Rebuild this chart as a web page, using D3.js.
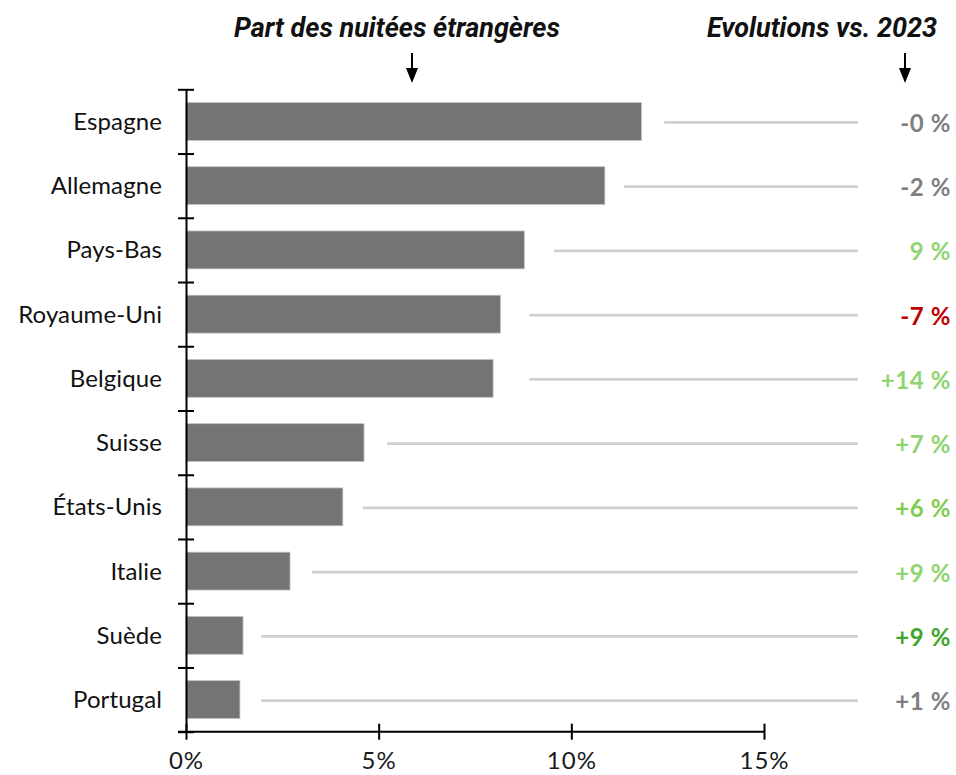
<!DOCTYPE html>
<html>
<head>
<meta charset="utf-8">
<script src="https://cdn.jsdelivr.net/npm/d3@7"></script>
<style>
  body { margin: 0; background: #fff; }
  svg { display: block; }
</style>
</head>
<body>
<div id="chart"></div>
<script>
// pays, part des nuitées étrangères (%), évolution vs 2023
const countries = ["Espagne", "Allemagne", "Pays-Bas", "Royaume-Uni", "Belgique",
                   "Suisse", "États-Unis", "Italie", "Suède", "Portugal"];
const shares = [11.82, 10.87, 8.78, 8.16, 7.97, 4.62, 4.07, 2.70, 1.48, 1.40];
const evolutionLabels = ["-0 %", "-2 %", "9 %", "-7 %", "+14 %", "+7 %", "+6 %", "+9 %", "+9 %", "+1 %"];
const evolutionColors = ["#7f7f7f", "#7f7f7f", "#8fd470", "#c00000", "#8fd470",
                         "#8fd470", "#7fcc4e", "#8fd470", "#3fa52a", "#7f7f7f"];
// leader lines (in % units) running from after the bar to the evolution label
const leaderStart = [12.41, 11.37, 9.55, 8.91, 8.91, 5.22, 4.59, 3.27, 1.95, 1.95];
const leaderEnd = 17.44;
const xTicks = [0, 5, 10, 15];

const W = 956, H = 775;
const svg = d3.select("#chart")
  .append("svg")
    .attr("width", W)
    .attr("height", H);

const x = d3.scaleLinear()
  .domain([0, 15])
  .range([186, 764]);

const y = d3.scaleBand()
  .domain(countries)
  .range([89.3, 731.7])
  .paddingInner(0.41)
  .paddingOuter(0.205);

// band boundaries for the crossing ticks on the category axis
const yEdge = d3.scaleLinear()
  .domain([0, countries.length])
  .range([89.3, 731.7]);

const rows = countries.map((c, i) => ({
  name: c, share: shares[i], evo: evolutionLabels[i], color: evolutionColors[i],
  l0: leaderStart[i]
}));

// leader lines
svg.append("g")
  .selectAll("line")
  .data(rows)
  .join("line")
    .attr("x1", d => x(d.l0))
    .attr("x2", x(leaderEnd))
    .attr("y1", d => y(d.name) + y.bandwidth() / 2 + 1)
    .attr("y2", d => y(d.name) + y.bandwidth() / 2 + 1)
    .attr("stroke", "#d0d0d0")
    .attr("stroke-width", 2.6);

// bars
svg.append("g")
  .selectAll("rect")
  .data(rows)
  .join("rect")
    .attr("x", x(0))
    .attr("y", d => y(d.name))
    .attr("width", d => x(d.share) - x(0))
    .attr("height", y.bandwidth())
    .attr("fill", "#747474")
    .attr("stroke", "#c4c4c4")
    .attr("stroke-width", 0.8);

// X axis
const xAxis = svg.append("g")
  .attr("transform", "translate(0," + yEdge(countries.length) + ")")
  .call(d3.axisBottom(x).tickValues(xTicks).tickFormat(d => d + "%").tickSizeOuter(0));
xAxis.select(".domain").attr("stroke", "#000").attr("stroke-width", 2)
  .attr("d", "M" + (x(0) - 8) + ",0H" + x(15));
xAxis.selectAll(".tick line").attr("y1", -8).attr("y2", 8).attr("stroke", "#000").attr("stroke-width", 2);
xAxis.selectAll(".tick text")
  .attr("y", 19)
  .attr("dy", "0.75em")
  .attr("fill", "#1a1a1a")
  .style("font-family", "Lato, sans-serif")
  .style("font-size", "24px")
  .style("letter-spacing", "1px");

// Y axis (category edges)
const yAxis = svg.append("g")
  .attr("transform", "translate(" + x(0) + ",0)")
  .call(d3.axisLeft(yEdge).tickValues(d3.range(0, countries.length + 1)).tickFormat("").tickSizeOuter(0));
yAxis.select(".domain").attr("stroke", "#000").attr("stroke-width", 2);
yAxis.selectAll(".tick line").attr("x1", -8).attr("x2", 8).attr("stroke", "#000").attr("stroke-width", 2);

// category labels
svg.append("g")
  .selectAll("text")
  .data(rows)
  .join("text")
    .attr("x", 162)
    .attr("y", d => y(d.name) + y.bandwidth() / 2)
    .attr("dy", "0.35em")
    .attr("text-anchor", "end")
    .attr("fill", "#111")
    .style("font-family", "Lato, sans-serif")
    .style("font-size", "24px")
    .style("letter-spacing", "0.1px")
    .text(d => d.name);

// evolution labels
svg.append("g")
  .selectAll("text")
  .data(rows)
  .join("text")
    .attr("x", 951)
    .attr("y", d => y(d.name) + y.bandwidth() / 2 + 2)
    .attr("dy", "0.35em")
    .attr("text-anchor", "end")
    .attr("fill", d => d.color)
    .style("font-family", "Lato, sans-serif")
    .style("font-weight", "700")
    .style("font-size", "24px")
    .style("letter-spacing", "0.6px")
    .text(d => d.evo);

// headers + arrows
const headers = [
  {text: "Part des nuitées étrangères", cx: 397, ax: 412},
  {text: "Evolutions vs. 2023", cx: 822, ax: 905}
];
svg.append("g")
  .selectAll("text")
  .data(headers)
  .join("text")
    .attr("x", d => d.cx)
    .attr("y", 37)
    .attr("text-anchor", "middle")
    .attr("fill", "#111")
    .style("font-family", "Roboto, sans-serif")
    .style("font-style", "italic")
    .style("font-weight", "700")
    .style("font-size", "27px")
    .text(d => d.text);

const arrows = svg.append("g").selectAll("g").data(headers).join("g");
arrows.append("line")
  .attr("x1", d => d.ax).attr("x2", d => d.ax)
  .attr("y1", 53).attr("y2", 71)
  .attr("stroke", "#000").attr("stroke-width", 2);
arrows.append("path")
  .attr("d", d => "M" + (d.ax - 6) + ",68L" + (d.ax + 6) + ",68L" + d.ax + ",83Z")
  .attr("fill", "#000");
</script>
</body>
</html>
